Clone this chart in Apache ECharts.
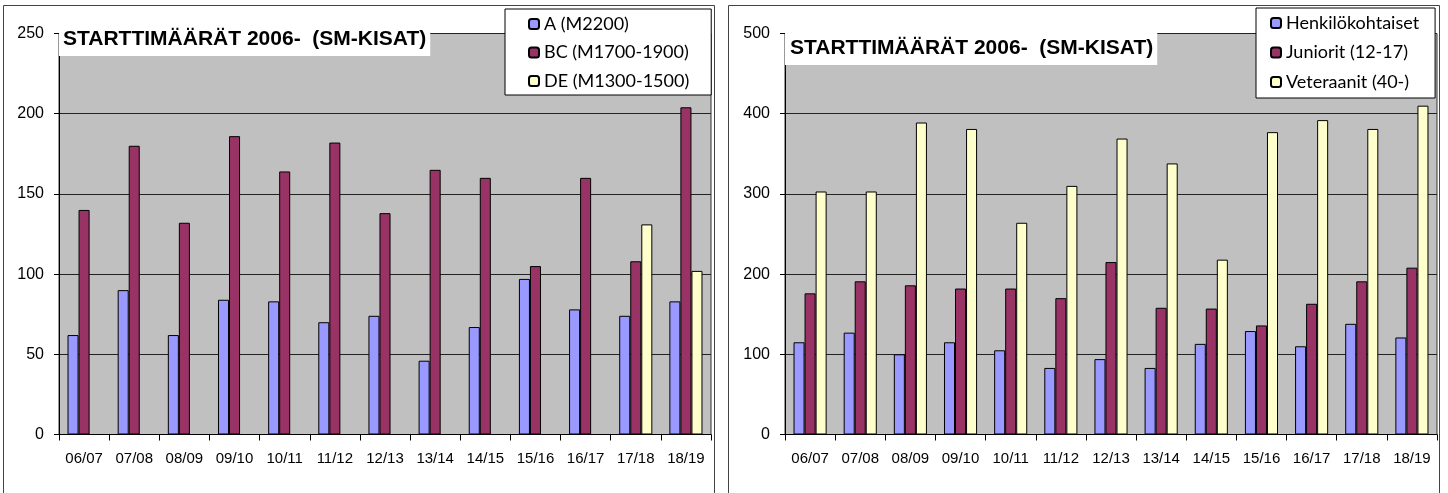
<!DOCTYPE html>
<html>
<head>
<meta charset="utf-8">
<script src="https://cdn.jsdelivr.net/npm/echarts@6/dist/echarts.min.js"></script>
<style>
html,body{margin:0;padding:0;background:#fff;}
#c{width:1448px;height:493px;}
</style>
</head>
<body>
<div id="c"></div>
<script>
var categories = ['06/07','07/08','08/09','09/10','10/11','11/12','12/13','13/14','14/15','15/16','16/17','17/18','18/19'];
var titleText = 'STARTTIMÄÄRÄT 2006-  (SM-KISAT)';

var leftNames = ['A (M2200)', 'BC (M1700-1900)', 'DE (M1300-1500)'];
var seriesA  = [62, 90, 62, 84, 83, 70, 74, 46, 67, 97, 78, 74, 83];
var seriesBC = [140, 180, 132, 186, 164, 182, 138, 165, 160, 105, 160, 108, 204];
var seriesDE = [null, null, null, null, null, null, null, null, null, null, null, 131, 102];

var rightNames = ['Henkilökohtaiset', 'Juniorit (12-17)', 'Veteraanit (40-)'];
var seriesHenk = [115, 127, 100, 115, 105, 83, 94, 83, 113, 129, 110, 138, 121];
var seriesJun  = [176, 191, 186, 182, 182, 170, 215, 158, 157, 136, 163, 191, 208];
var seriesVet  = [303, 303, 389, 381, 264, 310, 369, 338, 218, 377, 392, 381, 410];

var leftTicks = [0, 250, 50];
var rightTicks = [0, 500, 100];

var colors = ['#9999FF', '#993366', '#FFFFCC'];

var chart = echarts.init(document.getElementById('c'));

var axisFont = "'Liberation Sans', Arial, sans-serif";

function xAxis(gi) {
  return {
    type: 'category', gridIndex: gi, data: categories,
    axisLine: {lineStyle: {color: '#000', width: 1}},
    axisTick: {show: true, length: 6, interval: 0, lineStyle: {color: '#000'}},
    axisLabel: {interval: 0, margin: 17, color: '#000', fontSize: 15, fontFamily: axisFont}
  };
}
function yAxis(gi, t) {
  return {
    type: 'value', gridIndex: gi, min: t[0], max: t[1], interval: t[2],
    axisLine: {show: true, lineStyle: {color: '#000', width: 1}},
    axisTick: {show: true, length: 5, lineStyle: {color: '#000'}},
    axisLabel: {margin: 15, color: '#000', fontSize: 16, fontFamily: axisFont},
    splitLine: {show: true, lineStyle: {color: '#222', width: 1}}
  };
}
function bar(name, data, gi, ci) {
  return {
    type: 'bar', name: name, data: data, xAxisIndex: gi, yAxisIndex: gi,
    barGap: '0%', barCategoryGap: '34%',
    itemStyle: {color: colors[ci], borderColor: '#000', borderWidth: 1},
    emphasis: {disabled: true}
  };
}
function legend(names, left, top, pad, gap) {
  return {
    data: names, orient: 'vertical', left: left, top: top,
    padding: pad, itemGap: gap, itemWidth: 10, itemHeight: 10,
    backgroundColor: '#fff', borderColor: '#000', borderWidth: 1, borderRadius: 0,
    selectedMode: false,
    textStyle: {fontFamily: "Lato, 'Open Sans', sans-serif", fontSize: 18, lineHeight: 20, color: '#000'}
  };
}
var titleStyle = {fontFamily: "'Liberation Sans', Arial, sans-serif", fontWeight: 'bold', fontSize: 21, lineHeight: 24, color: '#000'};

chart.setOption({
  animation: false,
  backgroundColor: '#fff',
  title: [
    {text: titleText, left: 59, top: 23, padding: [4, 4, 5, 4], backgroundColor: '#fff', textStyle: titleStyle},
    {text: titleText, left: 785, top: 32, padding: [4, 4, 5, 5], backgroundColor: '#fff', textStyle: titleStyle}
  ],
  legend: [
    legend(leftNames, 505, 9, [5, 22, 4, 23], 8.5),
    legend(rightNames, 1256, 8, [5, 16, 6, 14], 9.5)
  ],
  grid: [
    {left: 59, top: 33.5, width: 652, height: 401, show: true, backgroundColor: '#C0C0C0', borderColor: '#333', borderWidth: 1},
    {left: 785, top: 33.5, width: 652, height: 401, show: true, backgroundColor: '#C0C0C0', borderColor: '#333', borderWidth: 1}
  ],
  xAxis: [xAxis(0), xAxis(1)],
  yAxis: [yAxis(0, leftTicks), yAxis(1, rightTicks)],
  series: [
    bar(leftNames[0], seriesA, 0, 0),
    bar(leftNames[1], seriesBC, 0, 1),
    bar(leftNames[2], seriesDE, 0, 2),
    bar(rightNames[0], seriesHenk, 1, 0),
    bar(rightNames[1], seriesJun, 1, 1),
    bar(rightNames[2], seriesVet, 1, 2)
  ],
  graphic: [
    {type: 'rect', silent: true, z: 100, shape: {x: 3.5, y: 5.5, width: 711, height: 520}, style: {fill: null, stroke: '#444', lineWidth: 1}},
    {type: 'rect', silent: true, z: 100, shape: {x: 728.5, y: 5.5, width: 711, height: 520}, style: {fill: null, stroke: '#444', lineWidth: 1}}
  ]
});
</script>
</body>
</html>
